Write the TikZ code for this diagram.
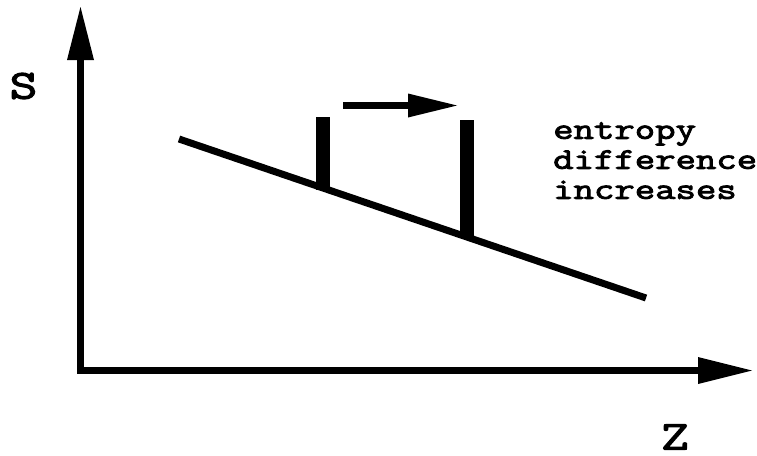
\documentclass[tikz,border=0pt]{standalone}
\usepackage{fontspec}
\newfontfamily\cour[FakeStretch=1.32,FakeBold=3]{Latin Modern Mono}
\begin{document}
\begin{tikzpicture}[x=1pt,y=-1pt,
  thick line/.style={line width=7pt},
  bar/.style={line width=14pt},
  head/.style={fill=black},
  lbl/.style={inner sep=0pt,font=\cour\fontsize{41}{41}\selectfont},
  note/.style={inner sep=0pt,align=left,font=\cour\fontsize{30}{30}\selectfont}]
\useasboundingbox (0,0) rectangle (757,455);
% axes
\coordinate (ytop) at (80.5,60);
\coordinate (origin) at (80.5,370.5);
\coordinate (xend) at (698,370.5);
\draw[thick line,line join=miter] (ytop) -- (origin) -- (xend);
\fill[head] (67,60) -- (94,60) -- (80.5,7) -- cycle;
\fill[head] (698,357) -- (698,384) -- (752,370.5) -- cycle;
% sloped line
\coordinate (l1) at (179,139);
\coordinate (l2) at (646,298);
\draw[thick line] (l1) -- (l2);
% bars
\coordinate (b1t) at (323,117);
\coordinate (b1b) at (323,190);
\coordinate (b2t) at (467,120);
\coordinate (b2b) at (467,236);
\draw[bar] (b1t) -- (b1b);
\draw[bar] (b2t) -- (b2b);
% arrow
\coordinate (a1) at (343,105.5);
\coordinate (a2) at (409,105.5);
\draw[thick line] (a1) -- (a2);
\fill[head] (408,93.5) -- (408,117.5) -- (457,105.5) -- cycle;
% labels
\node[lbl] (S) at (23.5,86) {S};
\node[lbl] (Z) at (675,437) {Z};
\node[note,anchor=north west] (txt) at (553,122) {entropy\\difference\\increases};
\end{tikzpicture}
\end{document}
